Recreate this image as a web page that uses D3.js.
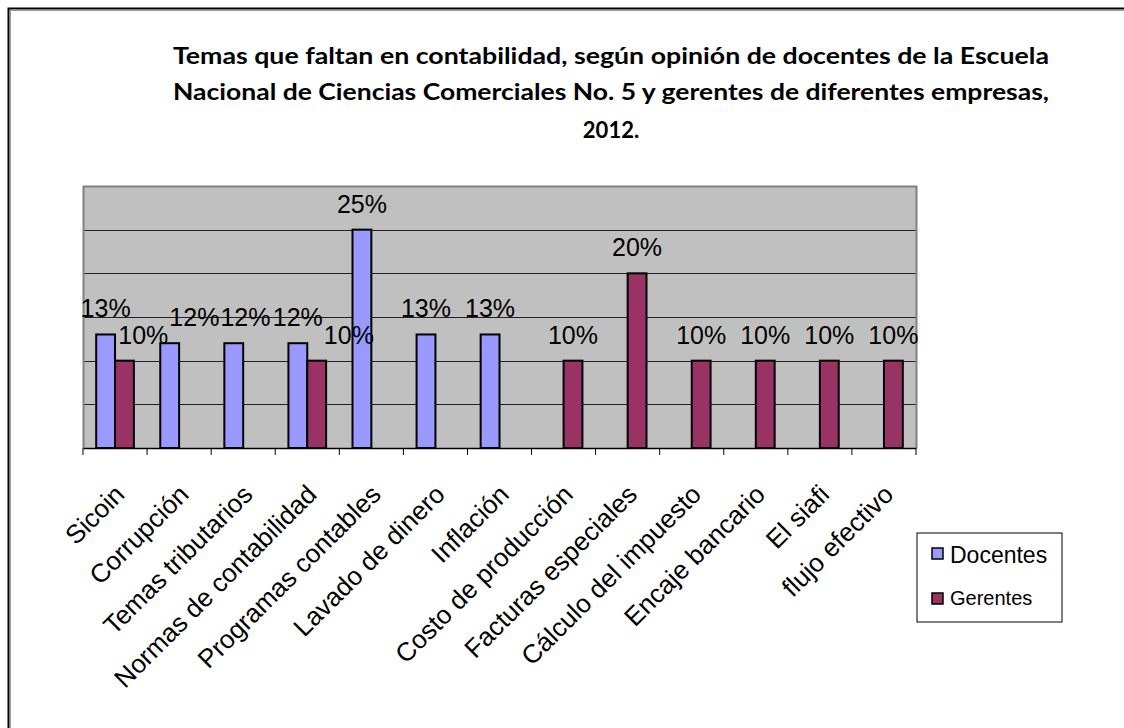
<!DOCTYPE html>
<meta charset="utf-8">
<style>
body { margin: 0; background: #fff; }
text { font-family: "Liberation Sans", Arial, sans-serif; }
.title { font-family: Lato, "Open Sans", sans-serif; font-weight: bold; font-size: 22px; }
</style>
<body>
<script src="https://cdnjs.cloudflare.com/ajax/libs/d3/7.8.5/d3.min.js"></script>
<script>

// chart data
var categories = ["Sicoin", "Corrupción", "Temas tributarios", "Normas de contabilidad",
  "Programas contables", "Lavado de dinero", "Inflación", "Costo de producción",
  "Facturas especiales", "Cálculo del impuesto", "Encaje bancario", "El siafi", "flujo efectivo"];
var series = ["Docentes", "Gerentes"];
var docentes = [0.13, 0.12, 0.12, 0.12, 0.25, 0.13, 0.13, null, null, null, null, null, null];
var gerentes = [0.10, null, null, 0.10, null, null, null, 0.10, 0.20, 0.10, 0.10, 0.10, 0.10];
var titleLines = [
  "Temas que faltan en contabilidad, según opinión de docentes de la Escuela",
  "Nacional de Ciencias Comerciales No. 5 y gerentes de diferentes empresas,",
  "2012."
];
var gridTicks = [0.05, 0.10, 0.15, 0.20, 0.25];

var colors = {Docentes: "#9999ff", Gerentes: "#993366"};

var W = 1124, H = 728;
var plot = {left: 83, top: 186, right: 916, bottom: 448};
var labelSize = 25;

var svg = d3.select("body").append("svg")
    .attr("width", W)
    .attr("height", H);

// outer frame (runs off the right / bottom of the picture)
svg.append("rect")
    .attr("x", 8.5).attr("y", 8.5)
    .attr("width", W + 20).attr("height", H + 20)
    .attr("fill", "#fff")
    .attr("stroke", "#000")
    .attr("stroke-width", 2);
svg.append("rect")
    .attr("x", 10.5).attr("y", 10.5)
    .attr("width", W + 20).attr("height", H + 20)
    .attr("fill", "none")
    .attr("stroke", "#999")
    .attr("stroke-width", 1);

// title
svg.append("g").selectAll("text")
    .data(titleLines)
  .enter().append("text")
    .attr("class", "title")
    .attr("x", 611)
    .attr("y", function(d, i) { return [64, 100, 138][i]; })
    .attr("text-anchor", "middle")
    .attr("textLength", function(d, i) { return i < 2 ? 876 : null; })
    .attr("lengthAdjust", "spacingAndGlyphs")
    .text(function(d) { return d; });

// scales
var x0 = d3.scaleBand()
    .domain(categories)
    .range([plot.left, plot.right])
    .paddingInner(0).paddingOuter(0);

var x1 = d3.scaleBand()
    .domain(series)
    .range([0, x0.bandwidth()])
    .paddingInner(0)
    .paddingOuter(0.7);

var y = d3.scaleLinear()
    .domain([0, 0.30])
    .range([plot.bottom, plot.top]);

// plot area
svg.append("rect")
    .attr("x", plot.left).attr("y", plot.top)
    .attr("width", plot.right - plot.left)
    .attr("height", plot.bottom - plot.top)
    .attr("fill", "#c0c0c0");

// gridlines
svg.append("g").selectAll("line")
    .data(gridTicks)
  .enter().append("line")
    .attr("x1", plot.left).attr("x2", plot.right)
    .attr("y1", function(d) { return Math.round(y(d)) + 0.5; })
    .attr("y2", function(d) { return Math.round(y(d)) + 0.5; })
    .attr("stroke", "#222")
    .attr("stroke-width", 1);

// plot border: grey top / right / left
svg.append("path")
    .attr("d", "M" + (plot.left + 0.5) + "," + plot.bottom + "V" + (plot.top + 0.5) +
      "H" + (plot.right + 0.5) + "V" + plot.bottom)
    .attr("fill", "none")
    .attr("stroke", "#808080")
    .attr("stroke-width", 2);

// flatten to one record per drawn bar
var points = [];
categories.forEach(function(c, i) {
  var both = docentes[i] != null && gerentes[i] != null;
  if (docentes[i] != null) points.push({cat: c, key: "Docentes", v: docentes[i], both: both});
  if (gerentes[i] != null) points.push({cat: c, key: "Gerentes", v: gerentes[i], both: both});
});

function barX(d) { return x0(d.cat) + x1(d.key); }

// bars
svg.append("g").selectAll("rect")
    .data(points)
  .enter().append("rect")
    .attr("x", barX)
    .attr("y", function(d) { return y(d.v); })
    .attr("width", x1.bandwidth())
    .attr("height", function(d) { return y(0) - y(d.v); })
    .attr("fill", function(d) { return colors[d.key]; })
    .attr("stroke", "#000")
    .attr("stroke-width", 2);

// value labels, on top of every bar
var labels = svg.append("g").selectAll("text")
    .data(points)
  .enter().append("text")
    .attr("y", function(d) { return y(d.v) - 17; })
    .attr("text-anchor", "middle")
    .attr("font-size", labelSize + "px")
    .attr("fill", "#000")
    .text(function(d) { return Math.round(d.v * 100) + "%"; });

// the Gerentes label slides right when it shares the slot, then a
// left-to-right pass nudges a label right if its glyphs hit the previous one
var prev = null;
labels.each(function(d) {
  var w = this.getComputedTextLength();
  var cx = barX(d) + x1.bandwidth() / 2;
  if (d.both && d.key === "Gerentes") cx += x1.bandwidth();
  var base = y(d.v) - 17;
  var box = {l: cx - w / 2, r: cx + w / 2, t: base - 0.75 * labelSize, b: base + 1};
  if (prev && box.l < prev.r && box.t < prev.b && box.b > prev.t) {
    var s = prev.r - box.l + 1;
    cx += s; box.l += s; box.r += s;
  }
  d3.select(this).attr("x", cx);
  prev = box;
});

// x axis
var xAxis = svg.append("g")
    .attr("transform", "translate(0," + plot.bottom + ")")
    .call(d3.axisBottom(x0).tickSize(0).tickSizeOuter(0));

xAxis.select(".domain").attr("stroke", "#000").attr("stroke-width", 1.5);

xAxis.selectAll(".tick text")
    .attr("font-family", "Liberation Sans, Arial, sans-serif")
    .attr("font-size", "26px")
    .attr("fill", "#000")
    .attr("text-anchor", "end")
    .attr("dy", null)
    .attr("y", 0)
    .attr("transform", "translate(11,48) rotate(-45)");

// tick marks on the band edges
xAxis.selectAll(".edge")
    .data(categories.concat(["end"]))
  .enter().append("line")
    .attr("class", "edge")
    .attr("x1", function(d) { return d === "end" ? plot.right : x0(d); })
    .attr("x2", function(d) { return d === "end" ? plot.right : x0(d); })
    .attr("y1", 0).attr("y2", 7)
    .attr("stroke", "#000");

// legend
var legend = svg.append("g").attr("transform", "translate(917,533)");
legend.append("rect")
    .attr("width", 145).attr("height", 89)
    .attr("fill", "#fff")
    .attr("stroke", "#000");

var legendItems = legend.selectAll(".item")
    .data(series)
  .enter().append("g")
    .attr("class", "item")
    .attr("transform", function(d, i) { return "translate(15," + [15, 60][i] + ")"; });

legendItems.append("rect")
    .attr("width", 11).attr("height", 11)
    .attr("fill", function(d) { return colors[d]; })
    .attr("stroke", "#000")
    .attr("stroke-width", 1.5);

legendItems.append("text")
    .attr("x", 18)
    .attr("y", function(d, i) { return [15, 12][i]; })
    .attr("font-size", function(d, i) { return [23, 20][i] + "px"; })
    .text(function(d) { return d; });

</script>
</body>
